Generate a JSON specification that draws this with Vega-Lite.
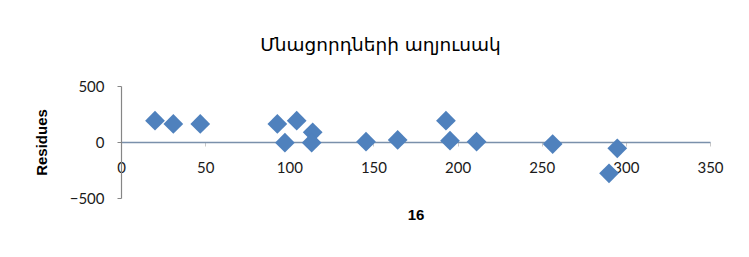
{
  "$schema": "https://vega.github.io/schema/vega-lite/v6.json",
  "autosize": {"type": "none"},
  "width": 589,
  "height": 112,
  "padding": {"left": 121, "top": 86, "right": 39, "bottom": 59},
  "background": "white",
  "title": {
    "text": "Մնացորդների աղյուսակ",
    "font": "DejaVu Sans",
    "fontSize": 18.5,
    "fontWeight": "normal",
    "color": "#000000",
    "anchor": "middle",
    "offset": 25,
    "dx": -35
  },
  "data": {
    "values": [
      {"x": 20.2, "r": 190},
      {"x": 31.1, "r": 161},
      {"x": 47.1, "r": 161},
      {"x": 92.9, "r": 161},
      {"x": 104.4, "r": 190},
      {"x": 97.4, "r": -6},
      {"x": 113.9, "r": 87},
      {"x": 113.3, "r": -6},
      {"x": 145.6, "r": 3},
      {"x": 164.4, "r": 18},
      {"x": 193.1, "r": 190},
      {"x": 195.5, "r": 12},
      {"x": 211.3, "r": 3},
      {"x": 256.5, "r": -18},
      {"x": 294.9, "r": -56},
      {"x": 290.0, "r": -280}
    ]
  },
  "mark": {"type": "point", "shape": "diamond", "filled": true, "size": 390, "color": "#4f81bd", "opacity": 1, "strokeWidth": 0},
  "encoding": {
    "x": {
      "field": "x",
      "type": "quantitative",
      "scale": {"domain": [0, 350], "nice": false, "zero": false},
      "axis": {
        "title": "16",
        "titleFont": "Liberation Sans",
        "titleFontSize": 15,
        "titleFontWeight": "bold",
        "titleColor": "#000000",
        "titlePadding": 32,
        "values": [0, 50, 100, 150, 200, 250, 300, 350],
        "grid": false,
        "offset": -56,
        "domainColor": "#7a90ab",
        "domainWidth": 1.5,
        "tickColor": "#c8c8c8",
        "tickSize": 4,
        "labelFont": "Lato",
        "labelFontSize": 15,
        "labelColor": "#1a1a1a",
        "labelPadding": 14,
        "labelFlush": false
      }
    },
    "y": {
      "field": "r",
      "type": "quantitative",
      "scale": {"domain": [-500, 500], "nice": false},
      "axis": {
        "title": "Residues",
        "titleFont": "Liberation Sans",
        "titleFontSize": 15,
        "titleFontWeight": "bold",
        "titleColor": "#000000",
        "titlePadding": 20,
        "values": [-500, 0, 500],
        "grid": false,
        "domainColor": "#868686",
        "domainWidth": 1.2,
        "tickColor": "#868686",
        "tickSize": 4,
        "labelFont": "Lato",
        "labelFontSize": 15,
        "labelColor": "#1a1a1a",
        "labelPadding": 13
      }
    }
  },
  "config": {"view": {"stroke": null}}
}
